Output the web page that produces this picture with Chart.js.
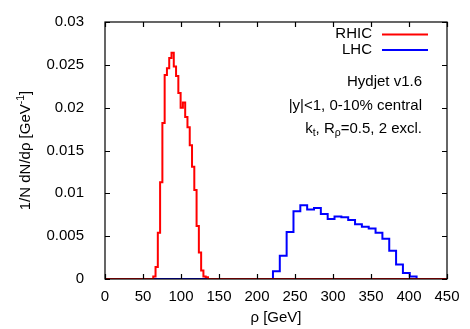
<!DOCTYPE html>
<html>
<head>
<meta charset="utf-8">
<script src="https://cdn.jsdelivr.net/npm/chart.js@4/dist/chart.umd.min.js"></script>
<style>
  body { margin: 0; background: #fff; }
  #wrap { width: 470px; height: 329px; position: relative; }
</style>
</head>
<body>
<div id="wrap"><canvas id="c"></canvas></div>
<script>
// bin low edges [GeV] and contents
const rhicEdges = [63.5, 66.5, 69.5, 72.5, 75.5, 78.5, 81.5, 84.5, 87.5, 90.5, 93.5, 96.5,
  99.5, 102.5, 105.5, 108.5, 111.5, 114.5, 117.5, 120.5, 123.5, 126.5, 129.5, 132.5];
const rhicEnd = 135.5;
const rhicValues = [0.0003, 0.0014, 0.0054, 0.0113, 0.0182, 0.0238, 0.0246, 0.0258, 0.0264, 0.0248, 0.0237, 0.0217,
  0.0200, 0.0206, 0.0189, 0.0177, 0.0156, 0.0131, 0.0104, 0.0062, 0.0031, 0.0010, 0.0003, 0.0002];

const lhcEdges = [221, 230, 239, 248, 257, 266, 275, 284, 293, 302, 311, 320, 329, 338, 347,
  356, 365, 374, 383, 392, 401];
const lhcEnd = 410;
const lhcValues = [0.0009, 0.0027, 0.0055, 0.0079, 0.0086, 0.0081, 0.0083, 0.0076, 0.0070, 0.0073, 0.0072,
  0.0069, 0.0064, 0.0061, 0.0059, 0.0054, 0.0047, 0.0033, 0.0017, 0.0007, 0.0003];

const xMin = 0, xMax = 450, xStep = 50;
const yMin = 0, yMax = 0.03, yStep = 0.005;

const seriesNames = ['RHIC', 'LHC'];
const seriesColors = ['#ff0000', '#0000ff'];
const infoLines = [
  [{ t: 'Hydjet v1.6' }],
  [{ t: '|y|<1, 0-10% central' }],
  [{ t: 'k' }, { t: 't', sub: true }, { t: ', R' }, { t: 'ρ', sub: true }, { t: '=0.5, 2 excl.' }]
];
const yTitle = [{ t: '1/N dN/dρ [GeV' }, { t: '-1', sup: true }, { t: ']' }];
const xTitle = [{ t: 'ρ [GeV]' }];

const FONT = '"Liberation Sans", Arial, sans-serif';
const FS = 15;

function toSteps(edges, values, end) {
  const pts = [{ x: xMin, y: 0 }];
  edges.forEach((e, i) => pts.push({ x: e, y: values[i] }));
  pts.push({ x: end, y: 0 });
  pts.push({ x: xMax, y: 0 });
  return pts;
}

// text with sub/superscripts, anchored at x by align
function richText(ctx, segs, x, y, align) {
  const w = segs.map(s => {
    ctx.font = (s.sub || s.sup ? FS * 0.7 : FS) + 'px ' + FONT;
    return ctx.measureText(s.t).width;
  });
  const total = w.reduce((a, b) => a + b, 0);
  let cx = align === 'right' ? x - total : align === 'center' ? x - total / 2 : x;
  ctx.textAlign = 'left';
  ctx.textBaseline = 'middle';
  segs.forEach((s, i) => {
    ctx.font = (s.sub || s.sup ? FS * 0.7 : FS) + 'px ' + FONT;
    const dy = s.sub ? 4 : s.sup ? -5 : 0;
    ctx.fillText(s.t, cx, y + dy);
    cx += w[i];
  });
}

const decor = {
  id: 'decor',
  afterDraw(chart) {
    const { ctx, chartArea: a, scales } = chart;
    ctx.save();
    ctx.fillStyle = '#000';
    ctx.strokeStyle = '#000';
    ctx.lineWidth = 1.2;
    ctx.strokeRect(a.left, a.top, a.right - a.left, a.bottom - a.top);
    const tl = 5;
    ctx.beginPath();
    scales.x.ticks.forEach(t => {
      const px = Math.round(scales.x.getPixelForValue(t.value)) + 0.5;
      ctx.moveTo(px, a.bottom); ctx.lineTo(px, a.bottom - tl);
      ctx.moveTo(px, a.top); ctx.lineTo(px, a.top + tl);
    });
    scales.y.ticks.forEach(t => {
      const py = Math.round(scales.y.getPixelForValue(t.value)) + 0.5;
      ctx.moveTo(a.left, py); ctx.lineTo(a.left + tl, py);
      ctx.moveTo(a.right, py); ctx.lineTo(a.right - tl, py);
    });
    ctx.stroke();

    // legend
    seriesNames.forEach((n, i) => {
      const y = 34 + i * 15.5;
      richText(ctx, [{ t: n }], 372, y, 'right');
      ctx.strokeStyle = seriesColors[i];
      ctx.lineWidth = 2;
      ctx.beginPath();
      ctx.moveTo(382, y + 0.5); ctx.lineTo(428, y + 0.5);
      ctx.stroke();
    });

    infoLines.forEach((segs, i) => richText(ctx, segs, 422, 82 + i * 23.5, 'right'));

    richText(ctx, xTitle, (a.left + a.right) / 2, 318, 'center');
    ctx.translate(26, (a.top + a.bottom) / 2);
    ctx.rotate(-Math.PI / 2);
    richText(ctx, yTitle, 0, 0, 'center');
    ctx.restore();
  }
};

new Chart(document.getElementById('c'), {
  type: 'line',
  data: {
    datasets: [
      { label: seriesNames[0], data: toSteps(rhicEdges, rhicValues, rhicEnd), borderColor: seriesColors[0],
        borderWidth: 2, stepped: true, pointRadius: 0, fill: false },
      { label: seriesNames[1], data: toSteps(lhcEdges, lhcValues, lhcEnd), borderColor: seriesColors[1],
        borderWidth: 2, stepped: true, pointRadius: 0, fill: false }
    ]
  },
  options: {
    responsive: true,
    maintainAspectRatio: false,
    animation: false,
    layout: { padding: { top: 18, right: 23, left: 0, bottom: 0 } },
    plugins: { legend: { display: false }, tooltip: { enabled: false } },
    scales: {
      x: {
        type: 'linear', min: xMin, max: xMax,
        grid: { display: false }, border: { display: false },
        ticks: { stepSize: xStep, autoSkip: false, padding: 1, color: '#000', font: { family: FONT, size: FS } },
        afterFit: s => { s.height = 50; }
      },
      y: {
        min: yMin, max: yMax,
        grid: { display: false }, border: { display: false },
        ticks: { stepSize: yStep, autoSkip: false, padding: 13, color: '#000', font: { family: FONT, size: FS },
          callback: v => String(+v.toFixed(3)) },
        afterFit: s => { s.width = 105; }
      }
    }
  },
  plugins: [decor]
});
</script>
</body>
</html>
